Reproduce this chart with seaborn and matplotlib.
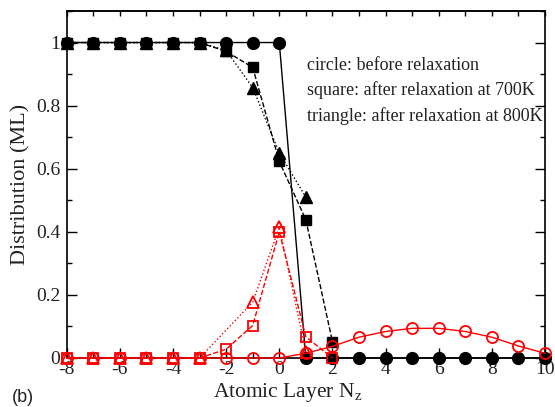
import matplotlib
matplotlib.use("Agg")
import matplotlib.pyplot as plt
from matplotlib.ticker import MultipleLocator, FixedLocator, NullFormatter
import seaborn as sns

# Atomic layer index for each series
layers_all = [-8, -7, -6, -5, -4, -3, -2, -1, 0, 1, 2, 3, 4, 5, 6, 7, 8, 9, 10]
layers_700 = [-8, -7, -6, -5, -4, -3, -2, -1, 0, 1, 2]
layers_800_black = [-8, -7, -6, -5, -4, -3, -2, -1, 0, 1]
layers_800_red = [-8, -7, -6, -5, -4, -3, -1, 0, 1]

# Black series (substrate species)
black_before = [1, 1, 1, 1, 1, 1, 1, 1, 1, 0, 0, 0, 0, 0, 0, 0, 0, 0, 0]
black_700 = [1, 1, 1, 1, 1, 1, 0.972, 0.921, 0.623, 0.438, 0.052]
black_800 = [1, 1, 1, 1, 1, 1, 0.975, 0.857, 0.650, 0.510]

# Red series (adatom species)
red_before = [0, 0, 0, 0, 0, 0, 0, 0, 0, 0.015, 0.037, 0.066, 0.084, 0.094,
              0.094, 0.084, 0.066, 0.038, 0.015]
red_700 = [0, 0, 0, 0, 0, 0, 0.028, 0.103, 0.400, 0.067, 0]
red_800 = [0, 0, 0, 0, 0, 0, 0.177, 0.415, 0.020]

x_ticks = [-8, -6, -4, -2, 0, 2, 4, 6, 8, 10]
x_ticklabels = ["-8", "-6", "-4", "-2", "0", "2", "4", "6", "8", "10"]
y_ticks = [0, 0.2, 0.4, 0.6, 0.8, 1.0]
y_ticklabels = ["0", "0.2", "0.4", "0.6", "0.8", "1"]

notes = ["circle: before relaxation",
         "square: after relaxation at 700K",
         "triangle: after relaxation at 800K"]

sns.set_style("ticks")
plt.rcParams["font.family"] = ["Liberation Serif", "DejaVu Serif"]
plt.rcParams["mathtext.fontset"] = "custom"
plt.rcParams["mathtext.rm"] = "Liberation Serif"
plt.rcParams["mathtext.it"] = "Liberation Serif:italic"

fig = plt.figure(figsize=(5.55, 4.07), dpi=100)
ax = fig.add_axes([0.1202, 0.1204, 0.982 - 0.1202, 0.973 - 0.1204])

RED = "#ff0000"
series = [
    (layers_700, black_700, "k", "s", "--", 7.0, True),
    (layers_800_black, black_800, "k", "^", ":", 8.5, True),
    (layers_all, black_before, "k", "o", "-", 8.5, True),
    (layers_all, red_before, RED, "o", "-", 8.0, False),
    (layers_700, red_700, RED, "s", "--", 7.0, False),
    (layers_800_red, red_800, RED, "^", ":", 8.5, False),
]

for xs, ys, color, mk, ls, ms, filled in series:
    sns.lineplot(
        x=xs, y=ys, ax=ax, color=color, marker=mk, linestyle=ls,
        linewidth=1.0, markersize=ms,
        markerfacecolor=color if filled else "none",
        markeredgecolor=color, markeredgewidth=1.0 if filled else 1.3,
        clip_on=False, zorder=3, sort=False, estimator=None,
    )

ax.set_xlim(-8, 10)
ax.set_ylim(0, 1.1)

ax.xaxis.set_major_locator(FixedLocator(x_ticks))
ax.set_xticklabels(x_ticklabels)
ax.xaxis.set_minor_locator(MultipleLocator(1))
ax.yaxis.set_major_locator(FixedLocator(y_ticks))
ax.set_yticklabels(y_ticklabels)
ax.yaxis.set_minor_locator(MultipleLocator(0.1))

ax.tick_params(axis="both", which="major", direction="in", length=7.5,
               width=1.0, labelsize=14, color="k", labelcolor="#222222")
ax.tick_params(axis="both", which="minor", direction="in", length=3.5,
               width=1.0, color="k")
ax.tick_params(axis="x", which="major", pad=2.5)
ax.tick_params(axis="y", which="major", pad=4.5)
ax.tick_params(axis="y", which="both", right=True)
ax.tick_params(axis="x", which="both", top=False)

# Top axis: uniform short ticks at every layer
top = ax.secondary_xaxis("top")
top.xaxis.set_major_locator(MultipleLocator(1))
top.xaxis.set_major_formatter(NullFormatter())
top.tick_params(direction="in", length=3.5, width=1.0, color="k")
top.spines["top"].set_linewidth(1.2)

for sp in ax.spines.values():
    sp.set_linewidth(1.2)
    sp.set_color("k")

ax.set_xlabel(r"Atomic Layer N$_{\rm z}$", fontsize=15.5, color="#222222")
ax.xaxis.set_label_coords(0.462, -0.065, transform=ax.transAxes)
ax.xaxis.label.set_va("top")
ax.set_ylabel("Distribution (ML)", fontsize=16, color="#222222", labelpad=4)

for i, txt in enumerate(notes):
    ax.text(0.503, 0.844 - i * 0.073, txt, transform=ax.transAxes,
            fontsize=13, color="#222222", va="center", ha="left")

fig.text(0.021, 0.012, "(b)", fontsize=13, family=["Liberation Sans"],
         color="#222222", ha="left", va="baseline")

fig.savefig("out.png", dpi=100)
